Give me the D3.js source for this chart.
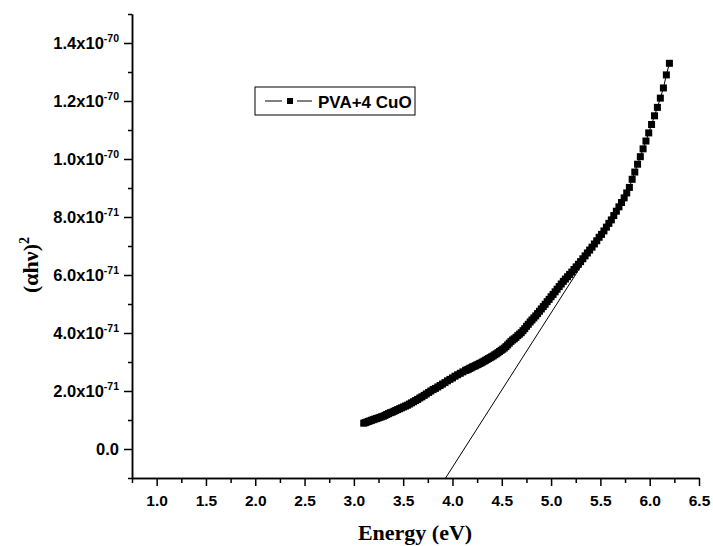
<!DOCTYPE html>
<html>
<head>
<meta charset="utf-8">
<script src="https://cdn.jsdelivr.net/npm/d3@7"></script>
<style>
body{margin:0;background:#fff}
svg{display:block}
</style>
</head>
<body>
<svg></svg>
<script>
// photon energy (eV) of each point, 200 nm .. 400 nm
let energy = [
  6.200,6.169,6.139,6.108,6.078,6.049,6.019,5.990,5.962,5.933,
  5.905,5.877,5.849,5.822,5.794,5.767,5.741,5.714,5.688,5.662,
  5.636,5.611,5.586,5.561,5.536,5.511,5.487,5.463,5.439,5.415,
  5.391,5.368,5.345,5.322,5.299,5.277,5.254,5.232,5.210,5.188,
  5.167,5.145,5.124,5.103,5.082,5.061,5.041,5.020,5.000,4.980,
  4.960,4.940,4.921,4.901,4.882,4.863,4.844,4.825,4.806,4.788,
  4.769,4.751,4.733,4.715,4.697,4.679,4.662,4.644,4.627,4.610,
  4.593,4.576,4.559,4.542,4.526,4.509,4.493,4.477,4.460,4.444,
  4.429,4.413,4.397,4.382,4.366,4.351,4.336,4.321,4.306,4.291,
  4.276,4.261,4.247,4.232,4.218,4.203,4.189,4.175,4.161,4.147,
  4.133,
  4.106,4.079,4.052,4.026,4.000,3.974,3.949,3.924,3.899,
  3.875,3.851,3.827,3.804,3.780,3.758,3.735,3.713,3.690,3.669,
  3.647,3.626,3.605,3.584,3.563,3.543,3.523,3.503,3.483,3.464,
  3.444,3.425,3.407,3.388,3.370,3.351,3.333,3.316,3.298,3.280,
  3.263,3.246,3.229,3.212,3.196,3.179,3.163,3.147,3.131,3.116,
  3.100
]

// (alpha h nu)^2, in units of 1e-71
let absorb = [
  13.3,12.9,12.45,12.1,11.78,11.49,11.19,10.9,10.62,10.35,
  10.08,9.82,9.55,9.3,9.02,8.83,8.66,8.5,8.35,8.2,
  8.05,7.9,7.78,7.65,7.52,7.4,7.3,7.18,7.07,6.96,
  6.86,6.76,6.66,6.56,6.46,6.37,6.28,6.19,6.1,6.02,
  5.94,5.86,5.78,5.69,5.6,5.51,5.42,5.33,5.25,5.16,
  5.08,4.99,4.91,4.83,4.75,4.67,4.59,4.52,4.45,4.38,
  4.3,4.23,4.15,4.08,4.01,3.96,3.91,3.85,3.8,3.76,
  3.71,3.65,3.59,3.53,3.48,3.44,3.4,3.36,3.32,3.28,
  3.25,3.21,3.18,3.15,3.12,3.09,3.06,3.03,3.0,2.97,
  2.95,2.92,2.9,2.87,2.85,2.83,2.8,2.78,2.75,2.73,
  2.71,
  2.66,2.61,2.56,2.51,2.45,2.4,2.35,2.29,2.24,
  2.19,2.14,2.09,2.05,2.0,1.95,1.9,1.85,1.8,1.76,
  1.71,1.67,1.63,1.59,1.55,1.51,1.48,1.45,1.42,1.39,
  1.36,1.33,1.3,1.27,1.25,1.22,1.19,1.16,1.13,1.11,
  1.09,1.07,1.05,1.03,1.01,0.99,0.97,0.95,0.93,0.91,
  0.89
]

// linear fit line (band gap extrapolation)
let tangentX = [3.93, 5.33]
let tangentY = [-1.0, 6.45]

let xMajor = [1.0,1.5,2.0,2.5,3.0,3.5,4.0,4.5,5.0,5.5,6.0,6.5]
let xMinor = [0.75,1.25,1.75,2.25,2.75,3.25,3.75,4.25,4.75,5.25,5.75,6.25]
let yMajor = [0,2,4,6,8,10,12,14]
let yMinor = [-1,1,3,5,7,9,11,13,15]
let yMantissa = ["0.0","2.0","4.0","6.0","8.0","1.0","1.2","1.4"]
let yExponent = ["","-71","-71","-71","-71","-70","-70","-70"]

let seriesName = "PVA+4 CuO"

let width = 713
let height = 546
let padLeft = 132, padRight = 699, padTop = 14, padBottom = 478

let svg = d3.select('svg').attr('width', width).attr('height', height)
svg.append('rect').attr('width', width).attr('height', height).attr('fill', '#fff')

let xScale = d3.scaleLinear().domain([0.75, 6.5]).range([padLeft, padRight])
let yScale = d3.scaleLinear().domain([-1, 15]).range([padBottom, padTop])

let sans = "Arial, 'Liberation Sans', sans-serif"
let serif = "'Times New Roman', 'Liberation Serif', serif"

// axes
let styleAxis = g => {
  g.selectAll('path,line').attr('stroke', '#000').attr('stroke-width', 1.5)
  g.selectAll('text').attr('font-family', sans).attr('font-weight', 'bold')
    .attr('font-size', 15.5).attr('fill', '#000')
}

let xAxis = d3.axisBottom(xScale).tickValues(xMajor).tickFormat(d3.format('.1f'))
  .tickSize(8).tickSizeOuter(0).tickPadding(9)
svg.append('g').attr('transform', 'translate(0,' + padBottom + ')').call(xAxis).call(styleAxis)

let xAxisMinor = d3.axisBottom(xScale).tickValues(xMinor).tickFormat('').tickSize(5).tickSizeOuter(0)
svg.append('g').attr('transform', 'translate(0,' + padBottom + ')').call(xAxisMinor).call(styleAxis)

let yAxis = d3.axisLeft(yScale).tickValues(yMajor).tickFormat('')
  .tickSize(8).tickSizeOuter(0).tickPadding(5)
let yG = svg.append('g').attr('transform', 'translate(' + padLeft + ',0)').call(yAxis).call(styleAxis)

yG.selectAll('.tick text').each(function (d, i) {
  let t = d3.select(this)
  t.text(yExponent[i] ? yMantissa[i] + 'x10' : yMantissa[i]).attr('font-size', 16.5)
  if (yExponent[i]) {
    t.append('tspan').attr('dy', -7).attr('font-size', 10.5).text(yExponent[i])
  }
})

let yAxisMinor = d3.axisLeft(yScale).tickValues(yMinor).tickFormat('').tickSize(4).tickSizeOuter(0)
svg.append('g').attr('transform', 'translate(' + padLeft + ',0)').call(yAxisMinor).call(styleAxis)

// axis titles
svg.append('text').attr('x', 415).attr('y', 540).attr('text-anchor', 'middle')
  .attr('font-family', serif).attr('font-weight', 'bold').attr('font-size', 22)
  .text('Energy (eV)')

let yTitle = svg.append('text').attr('transform', 'translate(38,265) rotate(-90)')
  .attr('text-anchor', 'middle').attr('font-family', serif).attr('font-weight', 'bold')
  .attr('font-size', 22)
yTitle.append('tspan').text('(\u03b1h\u03bd)')
yTitle.append('tspan').attr('dy', -9).attr('font-size', 14).text('2')

// data
let points = energy.map((e, i) => ({ e: e, a: absorb[i] }))

let line = d3.line().x(d => xScale(d.e)).y(d => yScale(d.a))

svg.append('path').datum(points).attr('d', line)
  .attr('fill', 'none').attr('stroke', '#000').attr('stroke-width', 1)

let ms = 7
svg.selectAll('rect.pt').data(points).enter().append('rect')
  .attr('class', 'pt')
  .attr('x', d => xScale(d.e) - ms / 2)
  .attr('y', d => yScale(d.a) - ms / 2)
  .attr('width', ms).attr('height', ms)
  .attr('fill', '#000')

// extrapolated line
let tangent = tangentX.map((x, i) => ({ e: x, a: tangentY[i] }))
svg.append('path').datum(tangent).attr('d', line)
  .attr('fill', 'none').attr('stroke', '#000').attr('stroke-width', 1)

// legend
let lg = svg.append('g')
lg.append('rect').attr('x', 255).attr('y', 87).attr('width', 160).attr('height', 28)
  .attr('fill', '#fff').attr('stroke', '#000').attr('stroke-width', 1)
lg.append('line').attr('x1', 265).attr('x2', 282).attr('y1', 101).attr('y2', 101)
  .attr('stroke', '#000').attr('stroke-width', 1)
lg.append('line').attr('x1', 297).attr('x2', 312).attr('y1', 101).attr('y2', 101)
  .attr('stroke', '#000').attr('stroke-width', 1)
lg.append('rect').attr('x', 290 - 3).attr('y', 101 - 3)
  .attr('width', 6).attr('height', 6).attr('fill', '#000')
lg.append('text').attr('x', 318).attr('y', 108)
  .attr('font-family', sans).attr('font-weight', 'bold').attr('font-size', 17)
  .text(seriesName)
</script>
</body>
</html>
